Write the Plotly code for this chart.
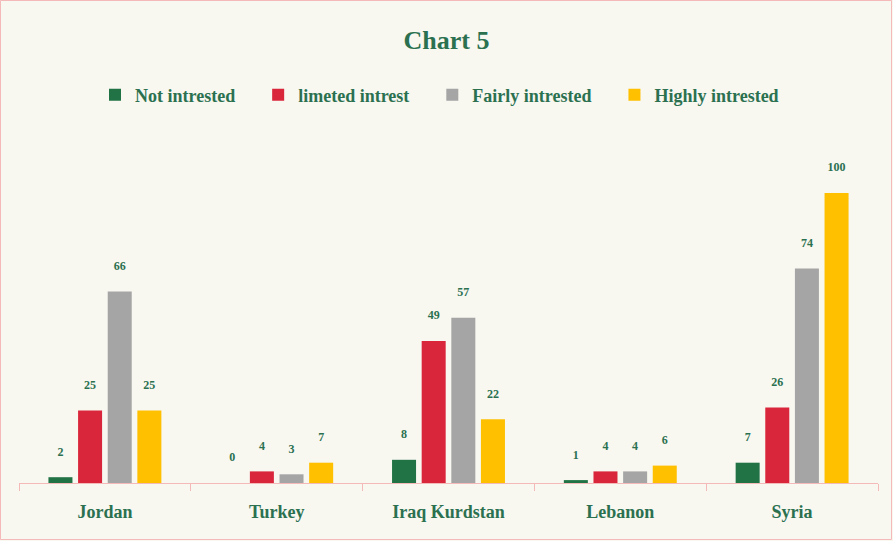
import plotly.graph_objects as go

categories = ["Jordan", "Turkey", "Iraq Kurdstan", "Lebanon", "Syria"]
series_names = ["Not intrested", "limeted intrest", "Fairly intrested", "Highly intrested"]
not_interested = [2, 0, 8, 1, 7]
limited_interest = [25, 4, 49, 4, 26]
fairly_interested = [66, 3, 57, 4, 74]
highly_interested = [25, 7, 22, 6, 100]
colors = ["#217346", "#D9263A", "#A5A5A5", "#FFC000"]

GREEN = "#2B7150"
FONT = "Liberation Serif"
BG = "#F8F7F0"
PINK = "#F4B9B9"

W, H = 893, 541
ml, mr, mt, mb = 19, 15, 145, 58
pw, ph = W - ml - mr, H - mt - mb

fig = go.Figure()
for name, vals, col in zip(series_names,
                           [not_interested, limited_interest, fairly_interested, highly_interested],
                           colors):
    fig.add_trace(go.Bar(
        name="<b>" + name + "</b>" + "&nbsp;" * 4, x=categories, y=vals,
        marker_color=col, marker_line_width=0,
        text=[f"<b>{v}</b><br> " for v in vals], textposition="outside",
        textfont=dict(family=FONT, size=12, color=GREEN), cliponaxis=False,
    ))

# page border
fig.add_shape(type="rect", xref="paper", yref="paper",
              x0=(0.5 - ml) / pw, x1=(W - 1.5 - ml) / pw,
              y0=-(mb - 1.5) / ph, y1=1 + (mt - 0.5) / ph,
              line=dict(color=PINK, width=1), fillcolor="rgba(0,0,0,0)", layer="below")

fig.update_layout(
    width=W, height=H,
    margin=dict(l=ml, r=mr, t=mt, b=mb),
    paper_bgcolor=BG, plot_bgcolor=BG,
    barmode="group", bargap=0.31, bargroupgap=0.19,
    title=dict(text="<b>Chart 5</b>", x=0.5, xanchor="center", y=1 - 40 / H, yanchor="middle",
               font=dict(family=FONT, size=26, color=GREEN)),
    legend=dict(orientation="h", x=0.5, xanchor="center", y=1 + (mt - 95) / ph, yanchor="middle",
                font=dict(family=FONT, size=18, color=GREEN), itemwidth=30,
                traceorder="normal", bgcolor="rgba(0,0,0,0)"),
    font=dict(family=FONT, color=GREEN),
    showlegend=True,
)
fig.update_xaxes(showline=True, linecolor=PINK, linewidth=1, ticks="outside", tickson="boundaries",
                 ticklen=7, tickcolor=PINK, showgrid=False,
                 tickfont=dict(family=FONT, size=18, color=GREEN),
                 tickvals=categories, ticktext=[f"<b>{c}</b>" for c in categories],
                 ticklabelstandoff=12)
fig.update_yaxes(visible=False, range=[0, ph / 2.9], showgrid=False, zeroline=False)

fig.write_html("out.html", config={"displayModeBar": False},
               post_script="document.body.style.margin='0px';")
